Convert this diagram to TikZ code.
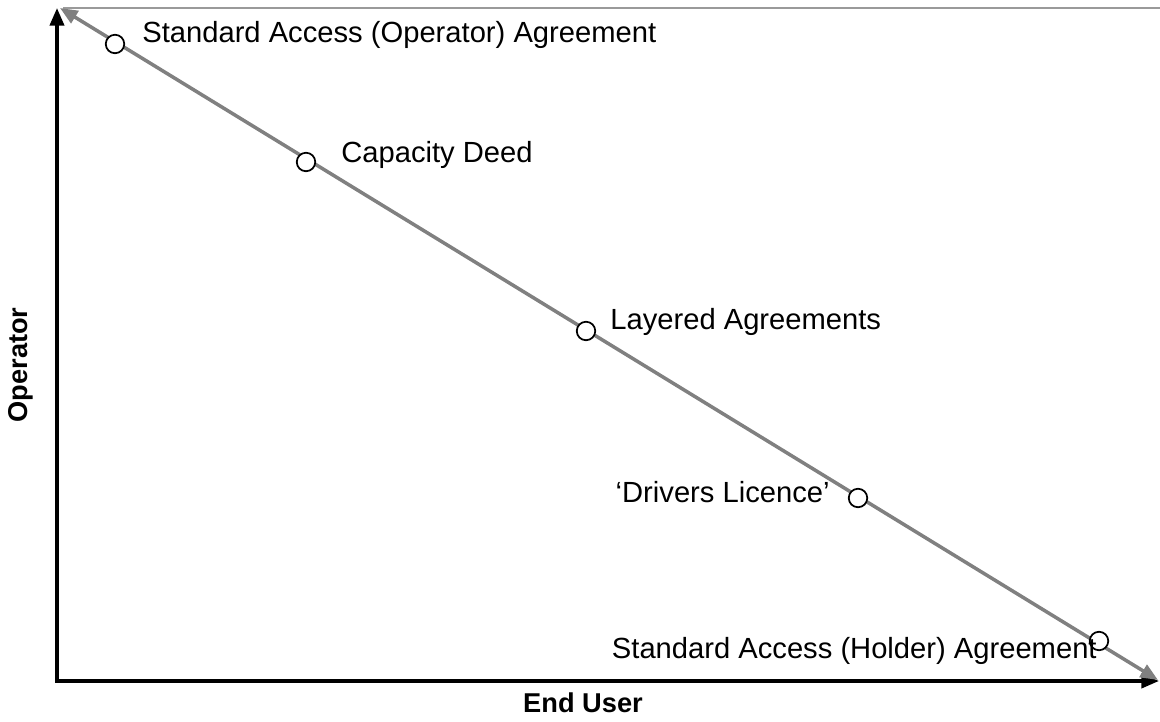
\documentclass[tikz,border=0pt]{standalone}
\usepackage{fontspec}
\setmainfont{Liberation Sans}
\usetikzlibrary{arrows.meta}
\definecolor{lineGrey}{HTML}{808080}
\tikzstyle{every node}=[inner sep=0pt,font=\fontsize{16.6}{20}\selectfont]
\tikzstyle{axis}=[line width=2pt,black,{Triangle[length=10pt,width=8pt]}-{Triangle[length=10pt,width=8pt]}]
\tikzstyle{scale line}=[line width=2pt,lineGrey,{Triangle[length=10pt,width=8pt]}-{Triangle[length=10pt,width=8pt]}]
\tikzstyle{deal}=[circle,draw=black,line width=1pt,fill=white,minimum size=0.37cm]
\tikzstyle{deal text}=[anchor=base west]
\tikzstyle{axis text}=[font=\fontsize{15.5}{18}\selectfont\bfseries]

\begin{document}
\begin{tikzpicture}[x=0.02cm,y=-0.02cm]
  \useasboundingbox (0,0) rectangle (1160,722);
  \coordinate (ytip) at (57,8);
  \coordinate (origin) at (57,681);
  \coordinate (xtip) at (1159,681);
  \coordinate (diagtop) at (60,8);
  \coordinate (diagend) at (1158,680);
  \coordinate (frameL) at (63,8);
  \coordinate (frameR) at (1160,8);
  % frame edge
  \draw[lineGrey!80,line width=1.1pt] (frameL) -- (frameR);
  % axes
  \draw[axis,line join=miter] (ytip) -- (origin) -- (xtip);
  \draw[scale line] (diagtop) -- (diagend);
  % agreements along the scale
  \node[deal] (operator) at (115,44) {};
  \node[deal] (capacity) at (306,162) {};
  \node[deal] (layered) at (586,331) {};
  \node[deal] (drivers) at (858,498) {};
  \node[deal] (holder) at (1099,641) {};
  \node[deal text] (operatorText) at (142,43) {Standard Access (Operator) Agreement};
  \node[deal text] (capacityText) at (341,163) {Capacity Deed};
  \node[deal text] (layeredText) at (610,330) {Layered Agreements};
  \node[deal text,anchor=base east] (driversText) at (830,503) {`Drivers Licence'};
  \node[deal text,anchor=base east] (holderText) at (1097,659) {Standard Access (Holder) Agreement};
  \node[axis text,rotate=90] (yLabel) at (21,365) {Operator};
  \node[axis text] (xLabel) at (583,703) {End User};
\end{tikzpicture}
\end{document}
